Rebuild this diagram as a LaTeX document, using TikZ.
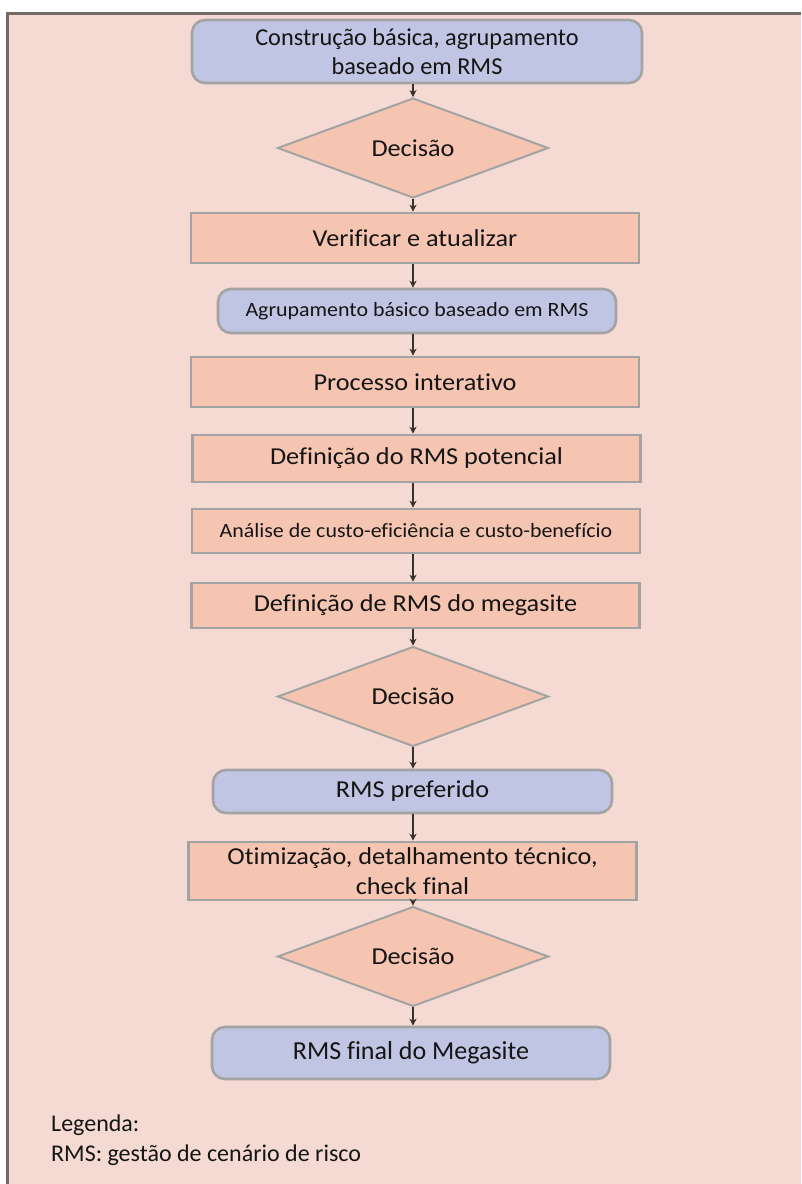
\documentclass[tikz,border=0pt]{standalone}
\usepackage{fontspec}
\setmainfont{Carlito}[Ligatures={NoCommon}]
\newfontfamily\widefont{Carlito}[FakeStretch=1.08, Ligatures={NoCommon}]
\usetikzlibrary{shapes.geometric,arrows.meta}

\definecolor{pagebg}{HTML}{F4DAD2}
\definecolor{framecol}{HTML}{766A66}
\definecolor{salmon}{HTML}{F5C5B1}
\definecolor{lilac}{HTML}{BFC5E2}
\definecolor{edgegrey}{HTML}{A3A3A3}
\definecolor{inkcol}{HTML}{151515}
\definecolor{arrowcol}{HTML}{3A2E2A}

\tikzset{
  stepbox/.style={draw=edgegrey, line width=2.6pt, fill=salmon, rectangle,
    inner sep=0pt, minimum width=448pt, text=inkcol, align=center,
    font=\widefont\fontsize{24.3}{30}\selectfont},
  smallstep/.style={stepbox, font=\widefont\fontsize{20.3}{24}\selectfont},
  roundbox/.style={draw=edgegrey, line width=2.6pt, fill=lilac, rectangle,
    rounded corners=13pt, inner sep=0pt, text=inkcol, align=center},
  decisionbox/.style={draw=edgegrey, line width=2pt, fill=salmon, diamond,
    inner sep=0pt, minimum width=271pt, text=inkcol,
    font=\widefont\fontsize{24.3}{30}\selectfont},
  flowarrow/.style={draw=arrowcol, line width=2.2pt,
    -{Stealth[length=7pt,width=7pt]}},
  legendtext/.style={anchor=west, inner sep=0pt, text=inkcol,
    font=\fontsize{24}{28}\selectfont}
}

\begin{document}
\begin{tikzpicture}[x=1pt,y=-1pt]
\useasboundingbox (0,0) rectangle (801,1184);

% page background and frame
\fill[white] (0,0) rectangle (801,1184);
\fill[pagebg] (7,13) rectangle (801,1184);
\draw[framecol, line width=3pt] (7,1184) -- (7,13) -- (801,13);

% column of the connectors
\coordinate (axis) at (413,0);

% flow nodes
\node[roundbox, minimum width=450pt, minimum height=63pt,
      font=\fontsize{24.3}{29}\selectfont] (start) at (417,51.5)
  {Construção básica, agrupamento\\baseado em RMS};
\node[decisionbox, minimum height=84pt] (dec1) at (413,148) {Decisão};
\node[stepbox, minimum height=50pt] (verify) at (415,238) {Verificar e atualizar};
\node[roundbox, minimum width=398pt, minimum height=44pt,
      font=\widefont\fontsize{20.3}{24}\selectfont] (group) at (417,311)
  {Agrupamento básico baseado em RMS};
\node[stepbox, minimum height=50pt] (iter) at (415,382) {Processo interativo};
\node[stepbox, minimum height=47pt] (potential) at (416.5,458.5) {Definição do RMS potencial};
\node[smallstep, minimum height=44pt] (costs) at (416,531)
  {Análise de custo-eficiência e custo-benefício};
\node[stepbox, minimum height=45pt] (mega) at (415.5,605.5) {Definição de RMS do megasite};
\node[decisionbox, minimum height=81pt] (dec2) at (413,696.5) {Decisão};
\node[roundbox, minimum width=399pt, minimum height=43pt,
      font=\widefont\fontsize{24.3}{29}\selectfont] (preferred) at (412.5,791.5)
  {RMS preferido};
\node[stepbox, minimum height=58pt, font=\widefont\fontsize{24.3}{30}\selectfont]
  (optim) at (412.5,871) {Otimização, detalhamento técnico,\\check final};
\node[decisionbox, minimum height=81pt] (dec3) at (413,956.5) {Decisão};
\node[roundbox, minimum width=398pt, minimum height=52pt,
      font=\fontsize{26}{30}\selectfont] (final) at (411,1053)
  {RMS final do Megasite};

% connectors
\draw[flowarrow] (start.south -| axis) -- (dec1.north);
\draw[flowarrow] (dec1.south) -- (verify.north -| axis);
\draw[flowarrow] (verify.south -| axis) -- (group.north -| axis);
\draw[flowarrow] (group.south -| axis) -- (iter.north -| axis);
\draw[flowarrow] (iter.south -| axis) -- (potential.north -| axis);
\draw[flowarrow] (potential.south -| axis) -- (costs.north -| axis);
\draw[flowarrow] (costs.south -| axis) -- (mega.north -| axis);
\draw[flowarrow] (mega.south -| axis) -- (dec2.north);
\draw[flowarrow] (dec2.south) -- (preferred.north -| axis);
\draw[flowarrow] (preferred.south -| axis) -- (optim.north -| axis);
\draw[flowarrow] (optim.south -| axis) -- (dec3.north);
\draw[flowarrow] (dec3.south) -- (final.north -| axis);

% legend
\node[legendtext] (legendtitle) at (51,1125) {Legenda:};
\node[legendtext] (legendrms) at (51,1155) {RMS: gestão de cenário de risco};
\end{tikzpicture}
\end{document}
